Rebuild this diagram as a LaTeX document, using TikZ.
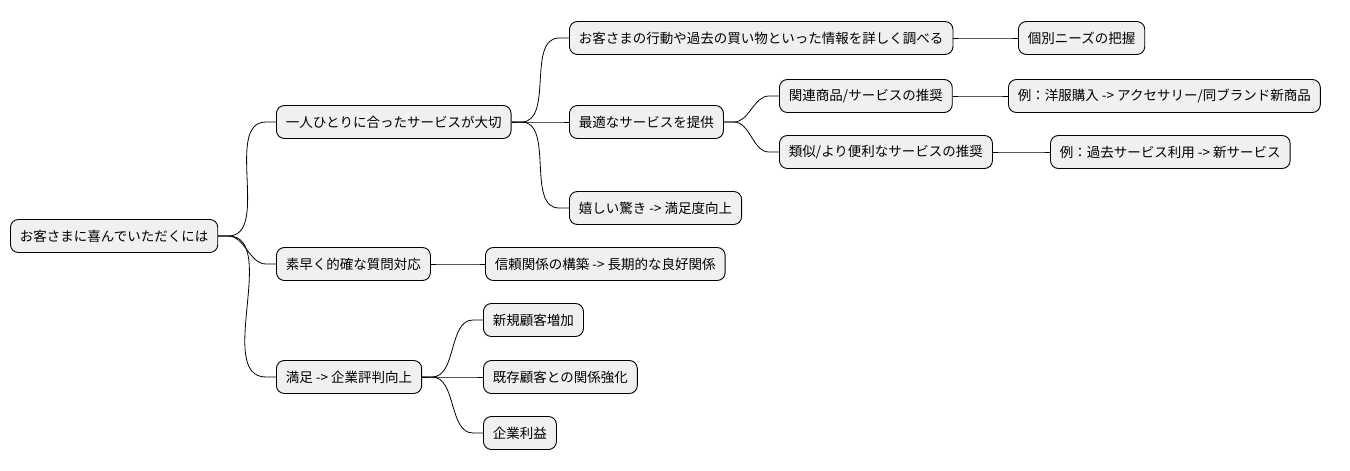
\documentclass[tikz,border=0pt]{standalone}
\usepackage{fontspec}
\setmainfont{Noto Sans CJK JP}
\begin{document}
\begin{tikzpicture}[x=1pt,y=-1pt,
  box/.style={draw=black,line width=0.9pt,fill=black!6,rounded corners=8pt,anchor=west,
    inner xsep=9.5pt,inner ysep=0pt,minimum height=33pt,font=\fontsize{13.5pt}{15pt}\selectfont},
  con/.style={line width=0.8pt}]
\useasboundingbox (0,0) rectangle (1350,471);
\node[box] (r) at (10,236) {お客さまに喜んでいただくには};
\node[box] (a) at (276,122) {一人ひとりに合ったサービスが大切};
\node[box] (a1) at (569,38) {お客さまの行動や過去の買い物といった情報を詳しく調べる};
\node[box] (a1x) at (1018,38) {個別ニーズの把握};
\node[box] (a2) at (569,122) {最適なサービスを提供};
\node[box] (a21) at (779,96) {関連商品/サービスの推奨};
\node[box] (a21x) at (1008,96) {例：洋服購入 -> アクセサリー/同ブランド新商品};
\node[box] (a22) at (779,152) {類似/より便利なサービスの推奨};
\node[box] (a22x) at (1050,152) {例：過去サービス利用 -> 新サービス};
\node[box] (a3) at (569,208) {嬉しい驚き -> 満足度向上};
\node[box] (b) at (276,264) {素早く的確な質問対応};
\node[box] (b1) at (485,264) {信頼関係の構築 -> 長期的な良好関係};
\node[box] (c) at (276,377) {満足 -> 企業評判向上};
\node[box] (c1) at (483,320) {新規顧客増加};
\node[box] (c2) at (483,377) {既存顧客との関係強化};
\node[box] (c3) at (483,433) {企業利益};
\foreach \p/\c in {r/a,r/b,r/c,a/a1,a/a2,a/a3,a1/a1x,a2/a21,a2/a22,a21/a21x,a22/a22x,b/b1,c/c1,c/c2,c/c3}
  \draw[con] (\p.east) -- ++(10,0) to[out=0,in=180,looseness=0.9] ([xshift=-10pt]\c.west) -- (\c.west);
\end{tikzpicture}
\end{document}
